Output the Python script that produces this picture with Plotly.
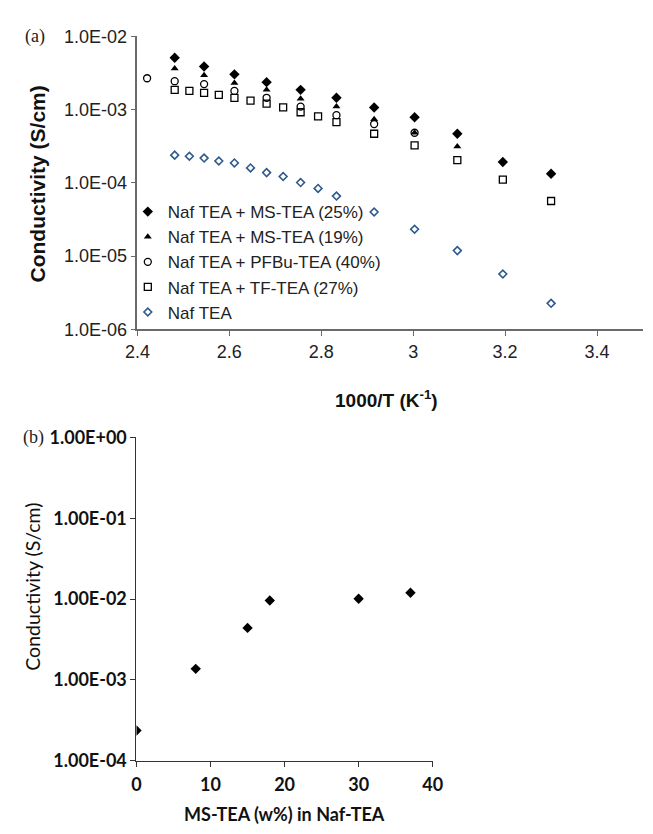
import plotly.graph_objects as go

# ---------------- Panel (a) data ----------------
x_ms25 = [2.481, 2.545, 2.611, 2.681, 2.755, 2.833, 2.915, 3.003, 3.096, 3.195, 3.300]
y_ms25 = [5.1e-3, 3.87e-3, 3.03e-3, 2.37e-3, 1.86e-3, 1.45e-3, 1.07e-3, 7.87e-4, 4.68e-4, 1.93e-4, 1.33e-4]

x_ms19 = [2.481, 2.545, 2.611, 2.681, 2.755, 2.833, 2.915, 3.003, 3.096]
y_ms19 = [3.64e-3, 2.94e-3, 2.30e-3, 1.86e-3, 1.41e-3, 1.10e-3, 7.4e-4, 4.83e-4, 3.14e-4]

x_pfbu = [2.421, 2.481, 2.545, 2.611, 2.681, 2.755, 2.833, 2.915, 3.003]
y_pfbu = [2.68e-3, 2.44e-3, 2.23e-3, 1.80e-3, 1.45e-3, 1.10e-3, 8.4e-4, 6.35e-4, 4.83e-4]

x_tf = [2.481, 2.513, 2.545, 2.577, 2.611, 2.646, 2.681, 2.717, 2.755, 2.793,
        2.833, 2.915, 3.003, 3.096, 3.195, 3.300]
y_tf = [1.86e-3, 1.80e-3, 1.69e-3, 1.59e-3, 1.45e-3, 1.33e-3, 1.21e-3, 1.07e-3, 9.2e-4, 8.1e-4,
        6.76e-4, 4.68e-4, 3.24e-4, 2.05e-4, 1.11e-4, 5.66e-5]

x_naf = [2.481, 2.513, 2.545, 2.577, 2.611, 2.646, 2.681, 2.717, 2.755, 2.793,
         2.833, 2.915, 3.003, 3.096, 3.195, 3.300]
y_naf = [2.39e-4, 2.31e-4, 2.18e-4, 1.99e-4, 1.87e-4, 1.60e-4, 1.38e-4, 1.22e-4, 1.01e-4, 8.4e-5,
         6.6e-5, 4.0e-5, 2.33e-5, 1.19e-5, 5.7e-6, 2.27e-6]

names_a = ["Naf TEA + MS-TEA (25%)", "Naf TEA + MS-TEA (19%)", "Naf TEA + PFBu-TEA (40%)",
           "Naf TEA + TF-TEA (27%)", "Naf TEA"]

yticks_a_vals = [1e-6, 1e-5, 1e-4, 1e-3, 1e-2]
yticks_a_text = ["1.0E-06", "1.0E-05", "1.0E-04", "1.0E-03", "1.0E-02"]
xticks_a_vals = [2.4, 2.6, 2.8, 3.0, 3.2, 3.4]
xticks_a_text = ["2.4", "2.6", "2.8", "3", "3.2", "3.4"]

# ---------------- Panel (b) data ----------------
x_b = [0, 8, 15, 18, 30, 37]
y_b = [2.37e-4, 1.37e-3, 4.4e-3, 9.6e-3, 1.01e-2, 1.2e-2]

yticks_b_vals = [1e-4, 1e-3, 1e-2, 1e-1, 1e0]
yticks_b_text = ["1.00E-04", "1.00E-03", "1.00E-02", "1.00E-01", "1.00E+00"]
xticks_b_vals = [0, 10, 20, 30, 40]

W, H = 653, 834

fig = go.Figure()

blk = "#000000"
blue = "#2E5A8E"
series_a = [
    (x_ms25, y_ms25, dict(symbol="diamond", size=8, color=blk)),
    (x_ms19, y_ms19, dict(symbol="triangle-up", size=7, color=blk)),
    (x_pfbu, y_pfbu, dict(symbol="circle-open", size=7, color=blk, line=dict(width=1.3, color=blk))),
    (x_tf, y_tf, dict(symbol="square-open", size=7, color=blk, line=dict(width=1.3, color=blk))),
    (x_naf, y_naf, dict(symbol="diamond-open", size=6, color=blue, line=dict(width=1.6, color=blue))),
]
for (xs, ys, mk), nm in zip(series_a, names_a):
    fig.add_trace(go.Scatter(x=xs, y=ys, mode="markers", name=nm, marker=mk,
                             xaxis="x", yaxis="y", showlegend=True))

fig.add_trace(go.Scatter(x=x_b, y=y_b, mode="markers", name="b",
                         marker=dict(symbol="diamond", size=8, color=blk),
                         xaxis="x2", yaxis="y2", showlegend=False))

axcol = "#6a6a6a"
sans = "Liberation Sans, Arial, sans-serif"
fig.update_layout(
    width=W, height=H,
    margin=dict(l=0, r=0, t=0, b=0),
    paper_bgcolor="white", plot_bgcolor="white",
    font=dict(family=sans, color="#222"),
    xaxis=dict(domain=[129 / W, 1.0], range=[2.4, 3.5], anchor="y",
               tickvals=xticks_a_vals, ticktext=xticks_a_text,
               showgrid=False, zeroline=False, showline=True, linecolor=axcol, linewidth=1.5,
               ticks="outside", ticklen=5, tickcolor=axcol,
               tickfont=dict(size=18, family=sans, color="#222")),
    yaxis=dict(domain=[1 - 326 / H, 1 - 25 / H], type="log", range=[-6, -2], anchor="x",
               tickvals=yticks_a_vals, ticktext=yticks_a_text,
               showgrid=False, zeroline=False, showline=True, linecolor=axcol, linewidth=1.5,
               ticks="outside", ticklen=5, tickcolor=axcol,
               tickfont=dict(size=18, family=sans, color="#222")),
    xaxis2=dict(domain=[128 / W, 435 / W], range=[0, 40], anchor="y2",
                tickvals=xticks_b_vals,
                showgrid=False, zeroline=False, showline=True, linecolor="#333", linewidth=1.2,
                ticks="outside", ticklen=5, tickcolor="#333", ticklabelstandoff=3,
                tickfont=dict(size=18, family="Lato", color="#111", weight="bold")),
    yaxis2=dict(domain=[1 - 769 / H, 1 - 437 / H], type="log", range=[-4, 0], anchor="x2",
                tickvals=yticks_b_vals, ticktext=yticks_b_text,
                showgrid=False, zeroline=False, showline=True, linecolor="#333", linewidth=1.2,
                ticks="outside", ticklen=5, tickcolor="#333",
                tickfont=dict(size=18, family="Lato", color="#111", weight="bold")),
    legend=dict(x=119 / W, y=1 - 187 / H, xanchor="left", yanchor="top",
                bgcolor="rgba(0,0,0,0)", font=dict(size=17, family=sans, color="#222"),
                tracegroupgap=0, itemwidth=30),
)

annots = [
    dict(text="(a)", x=10 / W, y=1 - 25 / H, xanchor="left", yanchor="middle",
         font=dict(size=18, family="Liberation Serif, Times New Roman", color="#222")),
    dict(text="(b)", x=8 / W, y=1 - 437 / H, xanchor="left", yanchor="middle",
         font=dict(size=18, family="Liberation Serif, Times New Roman", color="#222")),
    dict(text="<b>Conductivity (S/cm)</b>", x=25 / W, y=1 - 177 / H, textangle=-90,
         xanchor="center", yanchor="middle",
         font=dict(size=21, family=sans, color="#111")),
    dict(text="<b>1000/T (K<sup>-1</sup>)</b>", x=387 / W, y=1 - 397 / H,
         xanchor="center", yanchor="middle",
         font=dict(size=19, family=sans, color="#111")),
    dict(text="Conductivity (S/cm)", x=20 / W, y=1 - 590 / H, textangle=-90,
         xanchor="center", yanchor="middle",
         font=dict(size=19.5, family="Lato", color="#111")),
    dict(text="<b>MS-TEA (w%) in Naf-TEA</b>", x=281 / W, y=1 - 824 / H,
         xanchor="center", yanchor="middle",
         font=dict(size=18, family="Lato", color="#111")),
]
for a in annots:
    fig.add_annotation(xref="paper", yref="paper", showarrow=False, **a)

fig.write_html("out.html")
